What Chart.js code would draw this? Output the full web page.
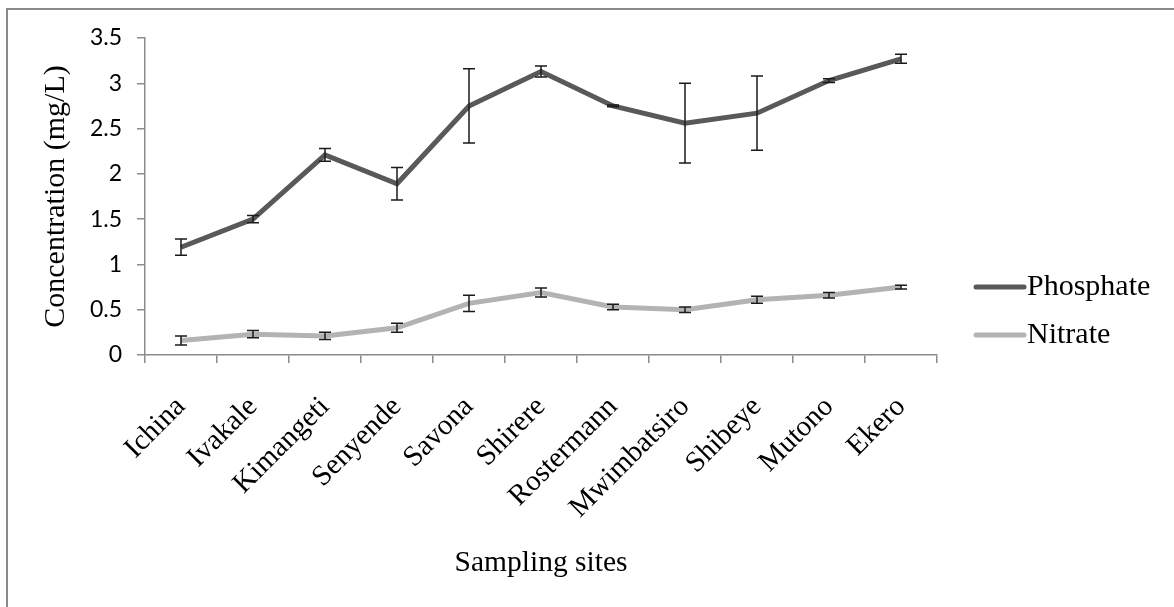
<!DOCTYPE html>
<html lang="en">
<head>
<meta charset="UTF-8">
<title>Phosphate and Nitrate Concentration</title>
<script src="https://cdn.jsdelivr.net/npm/chart.js"></script>
<style>
  body { margin: 0; background: #fff; }
  #wrap { position: relative; width: 1174px; height: 607px; }
</style>
</head>
<body>
<div id="wrap"><canvas id="concChart" width="1174" height="607"></canvas></div>
<script>
const sites = ['Ichina', 'Ivakale', 'Kimangeti', 'Senyende', 'Savona', 'Shirere',
               'Rostermann', 'Mwimbatsiro', 'Shibeye', 'Mutono', 'Ekero'];
const phosphate    = [1.19, 1.50, 2.21, 1.89, 2.75, 3.13, 2.75, 2.56, 2.67, 3.03, 3.27];
const phosphateErr = [0.09, 0.04, 0.07, 0.18, 0.41, 0.06, 0.01, 0.44, 0.41, 0.02, 0.05];
const nitrate      = [0.16, 0.23, 0.21, 0.30, 0.57, 0.69, 0.53, 0.50, 0.61, 0.66, 0.75];
const nitrateErr   = [0.05, 0.04, 0.04, 0.05, 0.09, 0.05, 0.03, 0.03, 0.04, 0.03, 0.02];
const yTicks = [0, 0.5, 1, 1.5, 2, 2.5, 3, 3.5];

const axisGrey = '#8c8c8c';
const serif = "'Liberation Serif', 'Times New Roman', serif";

// outer frame (only top and left edges show in the original crop)
const framePlugin = {
    id: 'frame',
    beforeDraw(chart) {
        const ctx = chart.ctx;
        ctx.save();
        ctx.strokeStyle = '#8a8a8a';
        ctx.lineWidth = 2;
        ctx.beginPath();
        ctx.moveTo(7, chart.height);
        ctx.lineTo(7, 9);
        ctx.lineTo(chart.width, 9);
        ctx.stroke();
        ctx.restore();
    }
};

// vertical error bars with caps
const errorBarPlugin = {
    id: 'errorBars',
    afterDatasetsDraw(chart) {
        const ctx = chart.ctx;
        const y = chart.scales.y;
        ctx.save();
        ctx.strokeStyle = '#1a1a1a';
        ctx.lineWidth = 1.5;
        chart.data.datasets.forEach((ds, di) => {
            const meta = chart.getDatasetMeta(di);
            meta.data.forEach((pt, i) => {
                const v = ds.data[i], e = ds.errors[i];
                const top = y.getPixelForValue(v + e);
                const bot = y.getPixelForValue(v - e);
                ctx.beginPath();
                ctx.moveTo(pt.x, top); ctx.lineTo(pt.x, bot);
                ctx.moveTo(pt.x - 6, top); ctx.lineTo(pt.x + 6, top);
                ctx.moveTo(pt.x - 6, bot); ctx.lineTo(pt.x + 6, bot);
                ctx.stroke();
            });
        });
        ctx.restore();
    }
};

// legend on the right, line sample + label
const sideLegend = {
    id: 'sideLegend',
    afterDraw(chart) {
        const ctx = chart.ctx;
        const rows = [287, 335];
        ctx.save();
        ctx.font = '30px ' + serif;
        ctx.textBaseline = 'middle';
        ctx.fillStyle = '#000';
        chart.data.datasets.forEach((ds, i) => {
            const yy = rows[i];
            ctx.strokeStyle = ds.borderColor;
            ctx.lineWidth = 5;
            ctx.lineCap = 'round';
            ctx.beginPath();
            ctx.moveTo(976, yy);
            ctx.lineTo(1024, yy);
            ctx.stroke();
            ctx.fillText(ds.label, 1027, yy);
        });
        ctx.restore();
    }
};

new Chart(document.getElementById('concChart'), {
    type: 'line',
    data: {
        labels: sites,
        datasets: [{
            label: 'Phosphate',
            data: phosphate,
            errors: phosphateErr,
            borderColor: '#595959',
            borderWidth: 5,
            pointRadius: 0,
            tension: 0
        }, {
            label: 'Nitrate',
            data: nitrate,
            errors: nitrateErr,
            borderColor: '#b3b3b3',
            borderWidth: 5,
            pointRadius: 0,
            tension: 0
        }]
    },
    options: {
        responsive: false,
        animation: false,
        devicePixelRatio: 1,
        layout: { padding: { left: 0, top: 38, right: 237, bottom: 0 } },
        plugins: {
            legend: { display: false },
            tooltip: { enabled: false }
        },
        scales: {
            x: {
                offset: true,
                grid: {
                    offset: true,
                    drawOnChartArea: false,
                    color: axisGrey,
                    tickLength: 8,
                    lineWidth: 1.5
                },
                border: { color: axisGrey, width: 1.5 },
                ticks: {
                    minRotation: 45,
                    maxRotation: 45,
                    padding: 27,
                    color: '#000',
                    font: { family: serif, size: 29 }
                },
                title: {
                    display: true,
                    text: 'Sampling sites',
                    color: '#000',
                    font: { family: serif, size: 29.5 },
                    padding: { top: 0, bottom: 26 }
                },
                afterFit(scale) { scale.height = 252; }
            },
            y: {
                min: 0,
                max: 3.5,
                afterBuildTicks(scale) { scale.ticks = yTicks.map(v => ({ value: v })); },
                grid: {
                    drawOnChartArea: false,
                    color: axisGrey,
                    tickLength: 8,
                    lineWidth: 1.5
                },
                border: { color: axisGrey, width: 1.5 },
                ticks: {
                    padding: 15,
                    color: '#000',
                    font: { family: "Lato, 'Liberation Sans', sans-serif", size: 23 },
                    callback: v => String(v)
                },
                title: {
                    display: true,
                    text: 'Concentration (mg/L)',
                    color: '#000',
                    font: { family: serif, size: 30 },
                    padding: { top: 38, bottom: 0 }
                },
                afterFit(scale) { scale.width = 145; }
            }
        }
    },
    plugins: [framePlugin, errorBarPlugin, sideLegend]
});
</script>
</body>
</html>
